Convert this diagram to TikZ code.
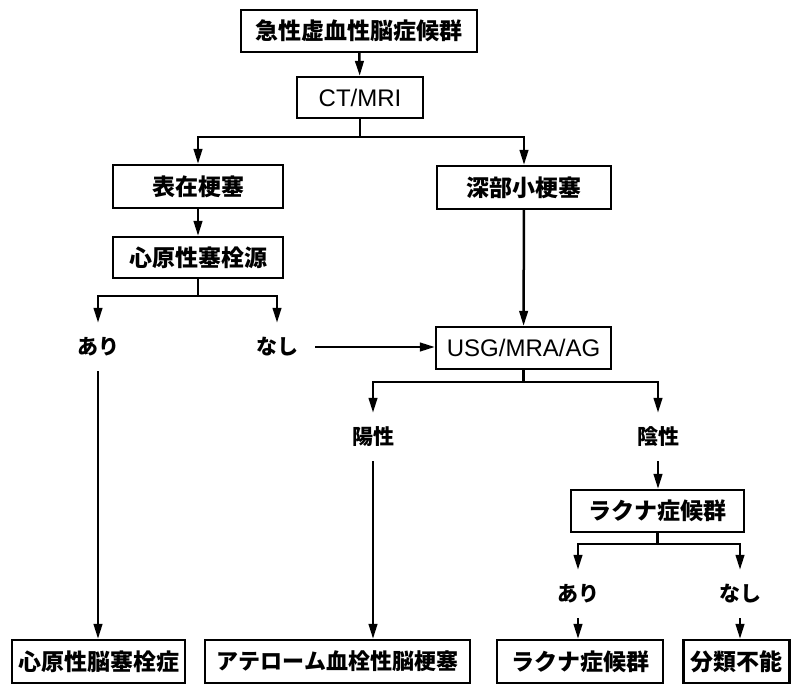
\documentclass[tikz,border=0pt]{standalone}
\usepackage{fontspec}
\newfontfamily\jp{Noto Sans CJK JP}
\newfontfamily\lat{Liberation Sans}
\usetikzlibrary{arrows.meta}
\tikzset{
  box/.style={draw, line width=2.2pt, inner sep=0pt, minimum height=42pt, font=\jp\bfseries\fontsize{23}{25}\selectfont},
  latbox/.style={box, font=\lat\fontsize{24}{26}\selectfont},
  lbl/.style={inner sep=0pt, minimum height=48pt, minimum width=40pt, font=\jp\bfseries\fontsize{21}{24}\selectfont},
  arr/.style={line width=2.5pt, -{Triangle[length=15pt,width=8.5pt]}},
  ln/.style={line width=2.5pt}
}
\begin{document}
\begin{tikzpicture}[x=1pt,y=-1pt]
\useasboundingbox (0,0) rectangle (795,684);
% boxes
\node[box, minimum width=236pt] (top) at (359,31) {急性虚血性脳症候群};
\node[latbox, minimum width=126pt, minimum height=41pt] (ct) at (360,97.5) {CT/MRI};
\node[box, minimum width=170pt, minimum height=43pt] (hyo) at (198,186.5) {表在梗塞};
\node[box, minimum width=174pt, minimum height=43pt] (shinbu) at (524,187.5) {深部小梗塞};
\node[box, minimum width=170pt, minimum height=41pt] (shingen) at (198,257.5) {心原性塞栓源};
\node[latbox, minimum width=175pt] (usg) at (523.5,348) {USG/MRA/AG};
\node[box, minimum width=173pt] (lacmid) at (657.5,511) {ラクナ症候群};
\node[box, minimum width=173pt, minimum height=43pt] (b1) at (98.5,661.5) {心原性脳塞栓症};
\node[box, minimum width=265pt, minimum height=43pt, font=\jp\bfseries\fontsize{22}{24}\selectfont] (b2) at (337.5,661.5) {アテローム血栓性脳梗塞};
\node[box, minimum width=166pt, minimum height=43pt] (b3) at (580,661.5) {ラクナ症候群};
\node[box, minimum width=106pt, minimum height=43pt] (b4) at (736.5,661.5) {分類不能};
% labels
\node[lbl] (ari1) at (98,347) {あり};
\node[lbl, minimum width=76pt] (nashi1) at (277,347) {なし};
\node[lbl] (yousei) at (373,437) {陽性};
\node[lbl] (insei) at (658,437) {陰性};
\node[lbl] (ari2) at (578,594) {あり};
\node[lbl] (nashi2) at (740,594) {なし};
% connectors
\draw[arr] (top) -- (ct);
\draw[arr] (ct.south) -- ++(0,18) -| (hyo.north);
\draw[arr] (ct.south) -- ++(0,18) -| (shinbu.north);
\draw[arr] (hyo) -- (shingen);
\draw[arr] (shingen.south) -- ++(0,17) -| (ari1.north);
\draw[arr] (shingen.south) -- ++(0,17) -| (nashi1.north);
\draw[arr] (nashi1.east) -- (nashi1.east -| usg.west);
\draw[arr] (shinbu) -- (usg);
\draw[arr] (usg.south) -- ++(0,12) -| (yousei.north);
\draw[arr] (usg.south) -- ++(0,12) -| (insei.north);
\draw[arr] (insei.south) -- (insei.south |- lacmid.north);
\draw[arr] (lacmid.south) -- ++(0,11) -| (ari2.north);
\draw[arr] (lacmid.south) -- ++(0,11) -| (nashi2.north);
\draw[arr] (ari1.south) -- (ari1.south |- b1.north);
\draw[arr] (yousei.south) -- (yousei.south |- b2.north);
\draw[arr] (ari2.south) -- (ari2.south |- b3.north);
\draw[arr] (nashi2.south) -- (nashi2.south |- b4.north);
\end{tikzpicture}
\end{document}
